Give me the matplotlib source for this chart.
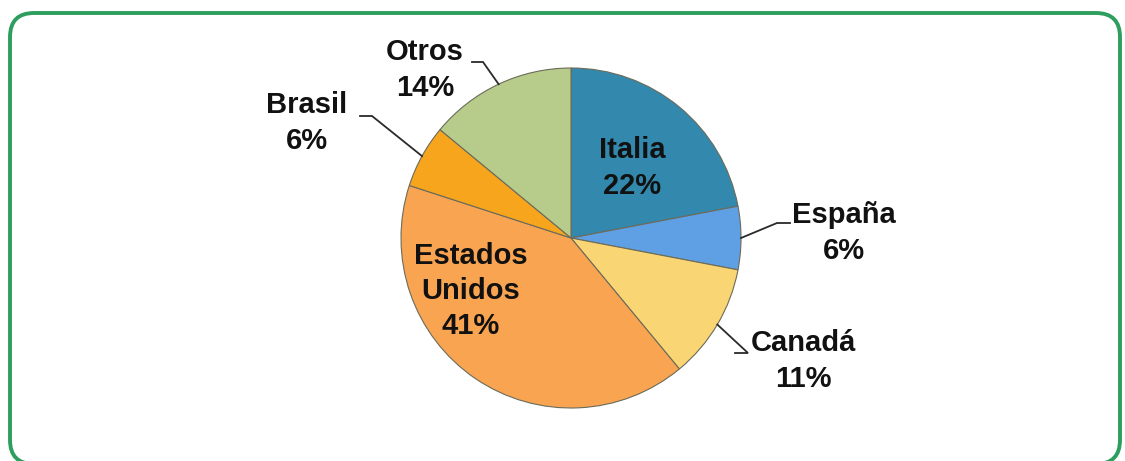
import numpy as np
import matplotlib
matplotlib.use("Agg")
import matplotlib.pyplot as plt
from matplotlib.patches import FancyBboxPatch

# Share of destinations (percent), clockwise from 12 o'clock
countries = ["Italia", "España", "Canadá", "Estados\nUnidos", "Brasil", "Otros"]
shares = [22, 6, 11, 41, 6, 14]
colors = ["#3289ad", "#5f9fe3", "#fad573", "#f9a451", "#f7a51c", "#b7cb8a"]

W, H = 1125, 461
fig = plt.figure(figsize=(W / 100, H / 100), dpi=100)
ax = fig.add_axes([0, 0, 1, 1])

cx, cy, R = 571, H - 238, 170
wedges, _ = ax.pie(shares, colors=colors, startangle=90, counterclock=False,
                   center=(cx, cy), radius=R,
                   wedgeprops=dict(edgecolor="#6b6b5a", linewidth=0.8))
ax.set_xlim(0, W)
ax.set_ylim(0, H)
ax.set_aspect("equal")
ax.axis("off")

# Rounded green frame, running just past the bottom edge
frame = FancyBboxPatch((10, -3), 1110, H - 10,
                       boxstyle="round,pad=0,rounding_size=24",
                       facecolor="none", edgecolor="#2e9e5e", linewidth=2.8,
                       transform=ax.transData, clip_on=False)
ax.add_patch(frame)

# Label placement: text centre, and for outside labels the leader elbow and tail
label_pos = {
    "Italia": dict(xy=(632, 168)),
    "España": dict(xy=(844, 233), elbow=(777, 223), tail=(790, 223)),
    "Canadá": dict(xy=(803, 361), elbow=(748, 353), tail=(735, 353)),
    "Estados\nUnidos": dict(xy=(471, 291)),
    "Brasil": dict(xy=(307, 123), elbow=(372, 116), tail=(360, 116)),
    "Otros": dict(xy=(425, 70), elbow=(483, 62), tail=(472, 62)),
}

cum = np.concatenate([[0], np.cumsum(shares)])
total = cum[-1]
for i, (name, val) in enumerate(zip(countries, shares)):
    p = label_pos[name]
    tx, ty = p["xy"]
    ax.text(tx, H - ty, f"{name}\n{val}%", ha="center", va="center",
            fontsize=21, fontweight="bold", family=["Liberation Sans", "DejaVu Sans"],
            color="#111111", linespacing=1.33)
    if "elbow" in p:
        mid = 90 - 360 * (cum[i] + cum[i + 1]) / 2 / total
        ex = cx + R * np.cos(np.radians(mid))
        ey = cy + R * np.sin(np.radians(mid))
        bx, by = p["elbow"]
        tlx, tly = p["tail"]
        ax.plot([ex, bx, tlx], [ey, H - by, H - tly], color="#2a2a2a",
                linewidth=1.3, solid_joinstyle="miter")

fig.savefig("out.png", dpi=100, facecolor="white")
